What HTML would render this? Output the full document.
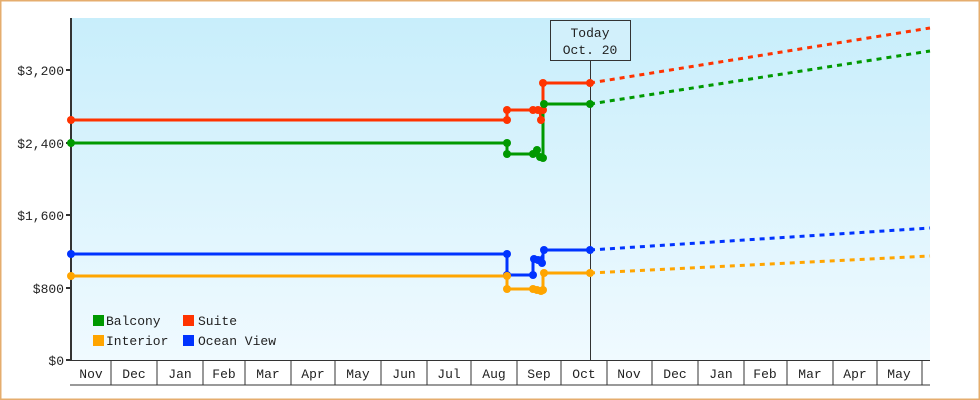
<!DOCTYPE html>
<html><head><style>
html,body{margin:0;padding:0;background:#fff}
svg{display:block}
text{font-family:"Liberation Mono","DejaVu Sans Mono",monospace;font-size:13px;fill:#222}
</style></head><body>
<svg width="980" height="400" xmlns="http://www.w3.org/2000/svg">
<defs><linearGradient id="bg" x1="0" y1="0" x2="0" y2="1"><stop offset="0" stop-color="#c8eefb"/><stop offset="1" stop-color="#f0faff"/></linearGradient></defs>
<rect x="0.5" y="0.5" width="979" height="399" fill="#fff" stroke="#e5ad6e" stroke-width="2"/>
<rect x="71" y="18" width="859" height="342" fill="url(#bg)"/>
<!-- y axis -->
<line x1="71" y1="18" x2="71" y2="361" stroke="#333" stroke-width="2"/>
<g stroke="#333" stroke-width="2">
<line x1="66" y1="360" x2="71" y2="360"/><line x1="66" y1="288" x2="71" y2="288"/><line x1="66" y1="215" x2="71" y2="215"/><line x1="66" y1="143" x2="71" y2="143"/><line x1="66" y1="70" x2="71" y2="70"/>
</g>
<g text-anchor="end">
<text x="64" y="365">$0</text><text x="64" y="293">$800</text><text x="64" y="220">$1,600</text><text x="64" y="148">$2,400</text><text x="64" y="75">$3,200</text>
</g>
<!-- x axis -->
<line x1="70" y1="360.5" x2="930" y2="360.5" stroke="#333" stroke-width="1"/>
<line x1="70" y1="385" x2="930" y2="385" stroke="#333" stroke-width="1"/>
<g stroke="#333" stroke-width="1">
<line x1="111" y1="360" x2="111" y2="385"/><line x1="157" y1="360" x2="157" y2="385"/><line x1="203" y1="360" x2="203" y2="385"/><line x1="245" y1="360" x2="245" y2="385"/><line x1="291" y1="360" x2="291" y2="385"/><line x1="335" y1="360" x2="335" y2="385"/><line x1="381" y1="360" x2="381" y2="385"/><line x1="427" y1="360" x2="427" y2="385"/><line x1="471" y1="360" x2="471" y2="385"/><line x1="517" y1="360" x2="517" y2="385"/><line x1="561" y1="360" x2="561" y2="385"/><line x1="607" y1="360" x2="607" y2="385"/><line x1="652" y1="360" x2="652" y2="385"/><line x1="698" y1="360" x2="698" y2="385"/><line x1="744" y1="360" x2="744" y2="385"/><line x1="787" y1="360" x2="787" y2="385"/><line x1="833" y1="360" x2="833" y2="385"/><line x1="877" y1="360" x2="877" y2="385"/><line x1="922" y1="360" x2="922" y2="385"/>
</g>
<g text-anchor="middle">
<text x="91" y="378">Nov</text><text x="134" y="378">Dec</text><text x="180" y="378">Jan</text><text x="224" y="378">Feb</text><text x="268" y="378">Mar</text><text x="313" y="378">Apr</text><text x="358" y="378">May</text><text x="404" y="378">Jun</text><text x="449" y="378">Jul</text><text x="494" y="378">Aug</text><text x="539" y="378">Sep</text><text x="584" y="378">Oct</text><text x="629" y="378">Nov</text><text x="675" y="378">Dec</text><text x="721" y="378">Jan</text><text x="765" y="378">Feb</text><text x="810" y="378">Mar</text><text x="855" y="378">Apr</text><text x="899" y="378">May</text>
</g>
<!-- today -->
<line x1="590.5" y1="60" x2="590.5" y2="360" stroke="#333" stroke-width="1"/>
<rect x="550.5" y="20.5" width="80" height="40" fill="#d2f0fb" stroke="#333"/>
<text x="590" y="37" text-anchor="middle">Today</text>
<text x="590" y="54" text-anchor="middle">Oct. 20</text>
<!-- series -->
<g fill="none" stroke-width="3">
<polyline stroke="#ff3300" points="71,120 507,120 507,110 533,110 540,110 541,120 543,110 543,83 590,83"/>
<polyline stroke="#009900" points="71,143 507,143 507,154 533,154 536,150 540,158 543,158 543,104 590,104"/>
<polyline stroke="#0033ff" points="71,254 507,254 507,275 533,275 533,259 538,262 541,258 543,263 543,250 590,250"/>
<polyline stroke="#ffa500" points="71,276 507,276 507,289 533,289 537,292 541,290 543,291 543,273 590,273"/>
<g stroke-dasharray="5,5">
<line x1="590" y1="83" x2="930" y2="28" stroke="#ff3300"/>
<line x1="590" y1="104" x2="930" y2="51" stroke="#009900"/>
<line x1="590" y1="250" x2="930" y2="228" stroke="#0033ff"/>
<line x1="590" y1="273" x2="930" y2="256" stroke="#ffa500"/>
</g>
</g>
<g fill="#ff3300"><circle cx="71" cy="120" r="4"/><circle cx="507" cy="120" r="4"/><circle cx="507" cy="110" r="4"/><circle cx="533" cy="110" r="4"/><circle cx="538" cy="110" r="4"/><circle cx="541" cy="120" r="4"/><circle cx="543" cy="110" r="4"/><circle cx="543" cy="83" r="4"/><circle cx="590" cy="83" r="4"/></g>
<g fill="#009900"><circle cx="71" cy="143" r="4"/><circle cx="507" cy="143" r="4"/><circle cx="507" cy="154" r="4"/><circle cx="533" cy="154" r="4"/><circle cx="537" cy="150" r="4"/><circle cx="540" cy="157" r="4"/><circle cx="543" cy="158" r="4"/><circle cx="544" cy="104" r="4"/><circle cx="590" cy="104" r="4"/></g>
<g fill="#0033ff"><circle cx="71" cy="254" r="4"/><circle cx="507" cy="254" r="4"/><circle cx="507" cy="275" r="4"/><circle cx="533" cy="275" r="4"/><circle cx="534" cy="259" r="4"/><circle cx="538" cy="260" r="4"/><circle cx="542" cy="263" r="4"/><circle cx="544" cy="250" r="4"/><circle cx="590" cy="250" r="4"/></g>
<g fill="#ffa500"><circle cx="71" cy="276" r="4"/><circle cx="507" cy="276" r="4"/><circle cx="507" cy="289" r="4"/><circle cx="533" cy="289" r="4"/><circle cx="537" cy="290" r="4"/><circle cx="541" cy="291" r="4"/><circle cx="543" cy="290" r="4"/><circle cx="544" cy="273" r="4"/><circle cx="590" cy="273" r="4"/></g>
<!-- legend -->
<rect x="93" y="315" width="11" height="11" fill="#009900"/><text x="106" y="325">Balcony</text>
<rect x="183" y="315" width="11" height="11" fill="#ff3300"/><text x="198" y="325">Suite</text>
<rect x="93" y="335" width="11" height="11" fill="#ffa500"/><text x="106" y="345">Interior</text>
<rect x="183" y="335" width="11" height="11" fill="#0033ff"/><text x="198" y="345">Ocean View</text>
</svg>
</body></html>
